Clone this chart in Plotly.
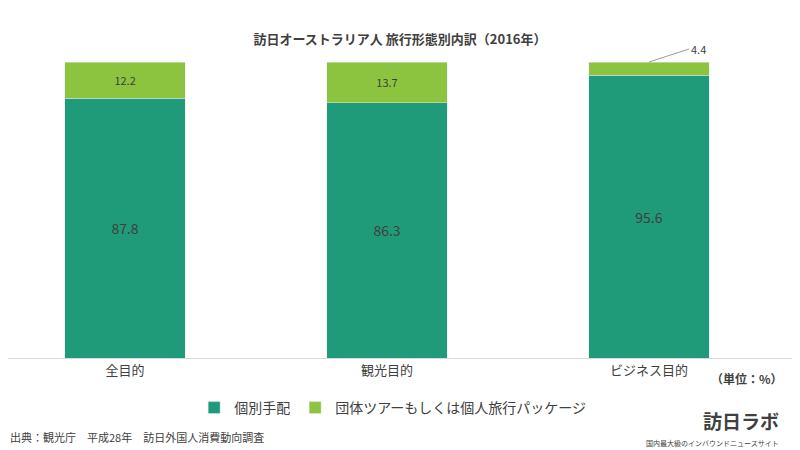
import plotly.graph_objects as go

categories = ['全目的', '観光目的', 'ビジネス目的']
individual = [87.8, 86.3, 95.6]
group = [12.2, 13.7, 4.4]

dark = '#1f9b79'
light = '#8cc43f'
font = 'Noto Sans CJK JP'

fig = go.Figure()
fig.add_trace(go.Bar(
    x=categories, y=individual, name='個別手配',
    marker_color=dark, width=0.46,
    text=[f'{v:.1f}' for v in individual], textposition='inside',
    insidetextanchor='middle', textfont=dict(size=14, color='#404040')
))
fig.add_trace(go.Bar(
    x=categories, y=group, name='団体ツアーもしくは個人旅行パッケージ',
    marker_color=light, width=0.46,
    text=[f'{v:.1f}' if v > 5 else '' for v in group], textposition='inside',
    insidetextanchor='middle', textfont=dict(size=11, color='#404040')
))

# small label for thin segment
fig.add_annotation(x=categories[2], y=individual[2] + group[2], text=f'{group[2]:.1f}',
                   showarrow=True, ax=40, ay=-13, arrowhead=0, arrowwidth=0.8,
                   arrowcolor='#808080', font=dict(size=11, color='#404040'),
                   xanchor='left')

fig.update_layout(
    barmode='stack', width=800, height=450,
    margin=dict(l=0, r=15, t=54, b=100),
    plot_bgcolor='white', paper_bgcolor='white',
    font=dict(family=font, color='#404040'),
    title=dict(text='<b>訪日オーストラリア人 旅行形態別内訳（2016年）</b>',
               x=0.49, y=0.94, xanchor='center', font=dict(size=13, color='#404040')),
    showlegend=True,
    legend=dict(orientation='h', x=0.49, xanchor='center', y=-0.169, yanchor='middle',
                font=dict(size=14, color='#404040'), traceorder='normal'),
)
fig.update_yaxes(visible=False, range=[0, 100])
fig.update_xaxes(showline=True, linecolor='#d9d9d9', tickfont=dict(size=13, color='#404040'),
                 range=[-0.447, 2.55])

fig.add_annotation(xref='paper', yref='paper', x=0.99, y=-0.068, text='<b>（単位：%）</b>',
                   showarrow=False, xanchor='right', yanchor='middle', font=dict(size=12))
fig.add_annotation(xref='paper', yref='paper', x=0.0, y=-0.267,
                   text='出典：観光庁　平成28年　訪日外国人消費動向調査',
                   showarrow=False, xanchor='left', yanchor='middle', font=dict(size=11))
fig.add_annotation(xref='paper', yref='paper', x=0.985, y=-0.21,
                   text='<b>訪日ラボ</b>', showarrow=False, xanchor='right', yanchor='middle',
                   font=dict(size=19, color='#404040'))
fig.add_annotation(xref='paper', yref='paper', x=0.985, y=-0.287,
                   text='国内最大級のインバウンドニュースサイト', showarrow=False,
                   xanchor='right', yanchor='middle', font=dict(size=7, color='#404040'))

fig.write_html('out.html')
